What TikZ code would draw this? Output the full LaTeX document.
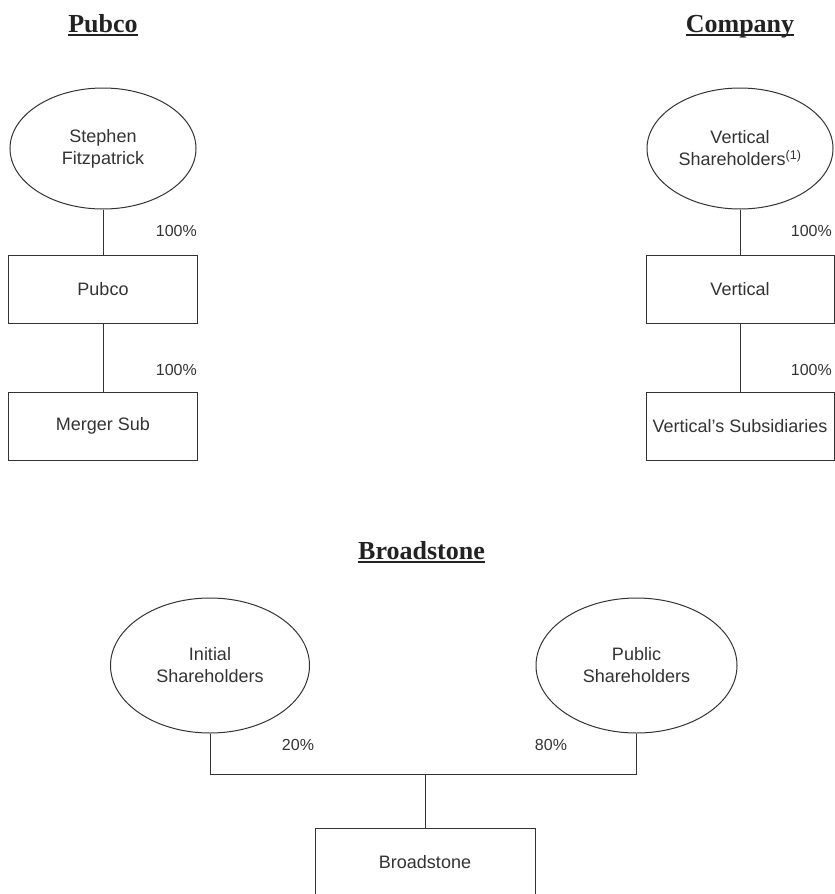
\documentclass[tikz,border=0pt]{standalone}
\usepackage{fontspec}
\setmainfont{Liberation Sans}
\newfontfamily\titlefont{Liberation Serif}
\usetikzlibrary{shapes.geometric}
\definecolor{ink}{HTML}{333333}
\definecolor{tink}{HTML}{222222}
\begin{document}
\begin{tikzpicture}[x=1pt,y=-1pt,
  ent/.style={draw=ink, line width=1pt, rectangle, minimum width=189pt, minimum height=68pt, inner sep=0pt, font=\fontsize{18}{21.6}\selectfont, text=ink},
  own/.style={draw=ink, line width=1pt, ellipse, inner sep=0pt, align=center, font=\fontsize{18}{22}\selectfont, text=ink},
  pct/.style={font=\fontsize{16}{19}\selectfont, text=ink, inner sep=0pt},
  ttl/.style={font=\titlefont\bfseries\fontsize{26}{30}\selectfont, text=tink, inner sep=0pt, anchor=base},
  link/.style={draw=ink, line width=1pt},
  uline/.style={draw=tink, line width=1.3pt}]
\path[use as bounding box, clip] (0,0) rectangle (835,894);
\fill[white] (0,0) rectangle (835,894);

% Pubco column
\node[ttl] (t1) at (103,32) {Pubco};
\draw[uline] ([yshift=-3pt]t1.base west) -- ([yshift=-3pt]t1.base east);
\node[own, minimum width=186pt, minimum height=121pt] (sf) at (103,148.5) {Stephen\\Fitzpatrick};
\node[ent] (pub) at (103,289) {Pubco};
\node[ent] (ms) at (103,426) {Merger Sub};
\draw[link] (sf.south) -- (pub.north);
\draw[link] (pub.south) -- (ms.north);
\node[pct, anchor=east] (p1) at (197,231) {100\%};
\node[pct, anchor=east] (p2) at (197,370) {100\%};

% Company column
\node[ttl] (t2) at (740,32) {Company};
\draw[uline] ([yshift=-3pt]t2.base west) -- ([yshift=-3pt]t2.base east);
\node[own, minimum width=186pt, minimum height=121pt] (vs) at (740,148.5) {Vertical\\Shareholders\textsuperscript{(1)}};
\node[ent, minimum width=188pt] (ver) at (740,289) {Vertical};
\node[ent, minimum width=188pt] (vsub) at (740,426) {Vertical’s Subsidiaries};
\draw[link] (vs.south) -- (ver.north);
\draw[link] (ver.south) -- (vsub.north);
\node[pct, anchor=east] (p3) at (832,231) {100\%};
\node[pct, anchor=east] (p4) at (832,370) {100\%};

% Broadstone
\node[ttl] (t3) at (421.5,559) {Broadstone};
\draw[uline] ([yshift=-3pt]t3.base west) -- ([yshift=-3pt]t3.base east);
\node[own, minimum width=199pt, minimum height=135pt] (ins) at (210,665.5) {Initial\\Shareholders};
\node[own, minimum width=201pt, minimum height=135pt] (pbs) at (636.5,665.5) {Public\\Shareholders};
\coordinate (j) at (425,774);
\node[ent, minimum width=220pt] (bs) at (425,862) {Broadstone};
\draw[link] (ins.south) |- (j) -| (pbs.south);
\draw[link] (j) -- (bs.north);
\node[pct] (p5) at (298,745) {20\%};
\node[pct] (p6) at (551,745) {80\%};
\end{tikzpicture}
\end{document}
